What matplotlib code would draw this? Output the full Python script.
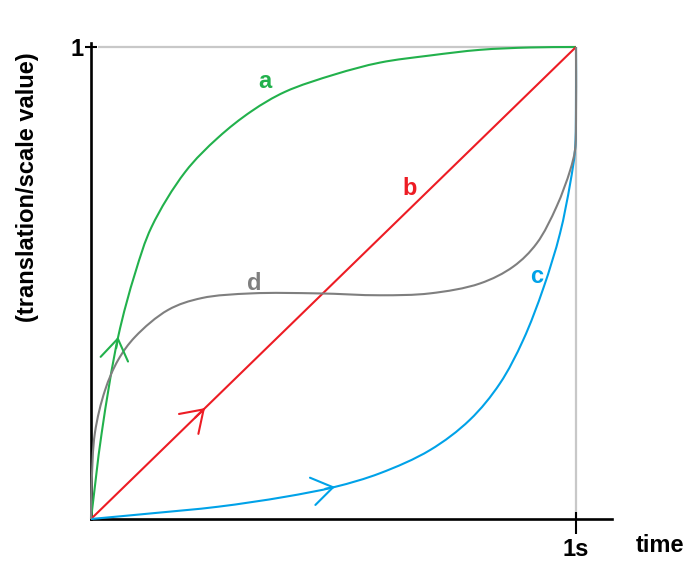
import numpy as np
import matplotlib
matplotlib.use("Agg")
import matplotlib.pyplot as plt
from matplotlib.path import Path
from matplotlib.patches import PathPatch

# ---- data (time in s, value 0..1) ----
a_x = [0, 0.022, 0.056, 0.091, 0.125, 0.194, 0.262, 0.331, 0.400, 0.503, 0.596, 0.699, 0.802, 0.905, 1.0]
a_y = [0, 0.182, 0.386, 0.521, 0.619, 0.735, 0.808, 0.864, 0.905, 0.942, 0.967, 0.982, 0.994, 0.999, 1.0]

b_x = [0, 1.0]
b_y = [0, 1.0]

c_x = [0, 0.125, 0.262, 0.400, 0.503, 0.596, 0.699, 0.781, 0.843, 0.891, 0.933, 0.967, 0.988, 0.998, 1.0, 1.0]
c_y = [0, 0.012, 0.026, 0.047, 0.068, 0.097, 0.146, 0.210, 0.287, 0.379, 0.490, 0.605, 0.711, 0.782, 0.888, 1.0]

d_x = [0, 0.0014, 0.008, 0.029, 0.056, 0.091, 0.159, 0.228, 0.331, 0.468, 0.596, 0.699, 0.802, 0.871, 0.919, 0.960, 0.988, 0.998, 1.0, 1.0]
d_y = [0, 0.076, 0.182, 0.273, 0.337, 0.386, 0.443, 0.468, 0.478, 0.478, 0.474, 0.478, 0.499, 0.535, 0.584, 0.662, 0.739, 0.782, 0.845, 1.0]

labels = ["a", "b", "c", "d"]
x_tick_label = "1s"
y_tick_label = "1"
x_title = "time"
y_title = "(translation/scale value)"

GREEN = "#22b14c"
RED = "#ed1c24"
BLUE = "#00a2e8"
GRAY = "#7f7f7f"
LIGHT = "#c8c8c8"

plt.rcParams['font.family'] = ['Liberation Sans', 'DejaVu Sans']

fig = plt.figure(figsize=(7.0, 5.78), dpi=100)
ax = fig.add_axes([0, 0, 1, 1])
ax.set_xlim(-91 / 485, (700 - 91) / 485)
ax.set_ylim((519 - 578) / 472, 519 / 472)

for s in ["top", "right"]:
    ax.spines[s].set_visible(False)
for s in ["left", "bottom"]:
    ax.spines[s].set_position(("data", 0))
    ax.spines[s].set_linewidth(1.9)
    ax.spines[s].set_color("black")
ax.spines["bottom"].set_bounds(0, 1.074)
ax.spines["left"].set_bounds(0, 1.008)

ax.set_xticks([1])
ax.set_xticklabels([x_tick_label])
ax.set_yticks([1])
ax.set_yticklabels([y_tick_label])
ax.set_xticks([1], minor=True)
ax.set_yticks([1], minor=True)
ax.xaxis.remove_overlapping_locs = False
ax.yaxis.remove_overlapping_locs = False
ax.tick_params(axis="x", which="major", direction="out", length=11, width=1.5, pad=3,
               labelsize=17)
ax.tick_params(axis="x", which="minor", direction="in", length=5, width=1.5)
ax.tick_params(axis="y", which="major", direction="out", length=4, width=1.5, pad=1,
               labelsize=17)
ax.tick_params(axis="y", which="minor", direction="in", length=4, width=1.5)
for t in ax.get_xticklabels() + ax.get_yticklabels():
    t.set_fontweight("bold")

# light frame lines at value 1 and time 1
ax.plot([0.014, 1.0], [1.0, 1.0], color=LIGHT, lw=1.6, zorder=1, solid_capstyle="butt")
ax.plot([1.0, 1.0], [0.0, 1.0], color=LIGHT, lw=1.6, zorder=1, solid_capstyle="butt")

SX, SY = 485.0, 472.0  # display scale, used for centripetal knot spacing


def smooth_path(xs, ys):
    """Centripetal Catmull-Rom through the read points, as cubic Bezier path."""
    P = np.column_stack([np.asarray(xs, float), np.asarray(ys, float)])
    if len(P) < 3:
        return Path(P)
    Q = np.vstack([2 * P[0] - P[1], P, 2 * P[-1] - P[-2]])
    S = Q * [SX, SY]
    verts = [P[0]]
    codes = [Path.MOVETO]
    for i in range(1, len(Q) - 2):
        p0, p1, p2, p3 = Q[i - 1], Q[i], Q[i + 1], Q[i + 2]
        d1 = np.linalg.norm(S[i] - S[i - 1]) ** 0.5
        d2 = np.linalg.norm(S[i + 1] - S[i]) ** 0.5
        d3 = np.linalg.norm(S[i + 2] - S[i + 1]) ** 0.5
        b1 = (d1 ** 2 * p2 - d2 ** 2 * p0 + (2 * d1 ** 2 + 3 * d1 * d2 + d2 ** 2) * p1) / (3 * d1 * (d1 + d2))
        b2 = (d3 ** 2 * p1 - d2 ** 2 * p3 + (2 * d3 ** 2 + 3 * d3 * d2 + d2 ** 2) * p2) / (3 * d3 * (d3 + d2))
        verts += [b1, b2, p2]
        codes += [Path.CURVE4] * 3
    return Path(np.array(verts), codes)


series = [(a_x, a_y, GREEN), (b_x, b_y, RED), (c_x, c_y, BLUE), (d_x, d_y, GRAY)]
for xs, ys, col in series:
    ax.add_patch(PathPatch(smooth_path(xs, ys), facecolor="none", edgecolor=col,
                           lw=1.5, zorder=3, joinstyle="round"))

# open arrowheads along curves a, b, c
arrow_at = [(a_x, a_y, GREEN, 0.056, 0.004), (b_x, b_y, RED, 0.235, 0.02), (c_x, c_y, BLUE, 0.503, 0.02)]
for xs, ys, col, xt, dx in arrow_at:
    yt = np.interp(xt, xs, ys)
    y0 = np.interp(xt - dx, xs, ys)
    ax.annotate("", xy=(xt, yt), xytext=(xt - dx, y0),
                arrowprops=dict(arrowstyle="->,head_length=0.75,head_width=0.5",
                                mutation_scale=20, color=col, lw=1.5,
                                shrinkA=0, shrinkB=0), zorder=4)

# curve labels
label_pos = [(0.359, 0.926, GREEN), (0.656, 0.700, RED), (0.918, 0.513, BLUE), (0.336, 0.498, GRAY)]
for lab, (x, y, col) in zip(labels, label_pos):
    ax.text(x, y, lab, color=col, fontsize=17, fontweight="bold", ha="center", va="center")

ax.text((660 - 91) / 485, (519 - 545) / 472, x_title, fontsize=17, fontweight="bold",
        ha="center", va="center")
ax.text((28 - 91) / 485, (519 - 187) / 472, y_title, fontsize=17, fontweight="bold",
        ha="center", va="center", rotation=90)

fig.savefig("out.png", dpi=100)
